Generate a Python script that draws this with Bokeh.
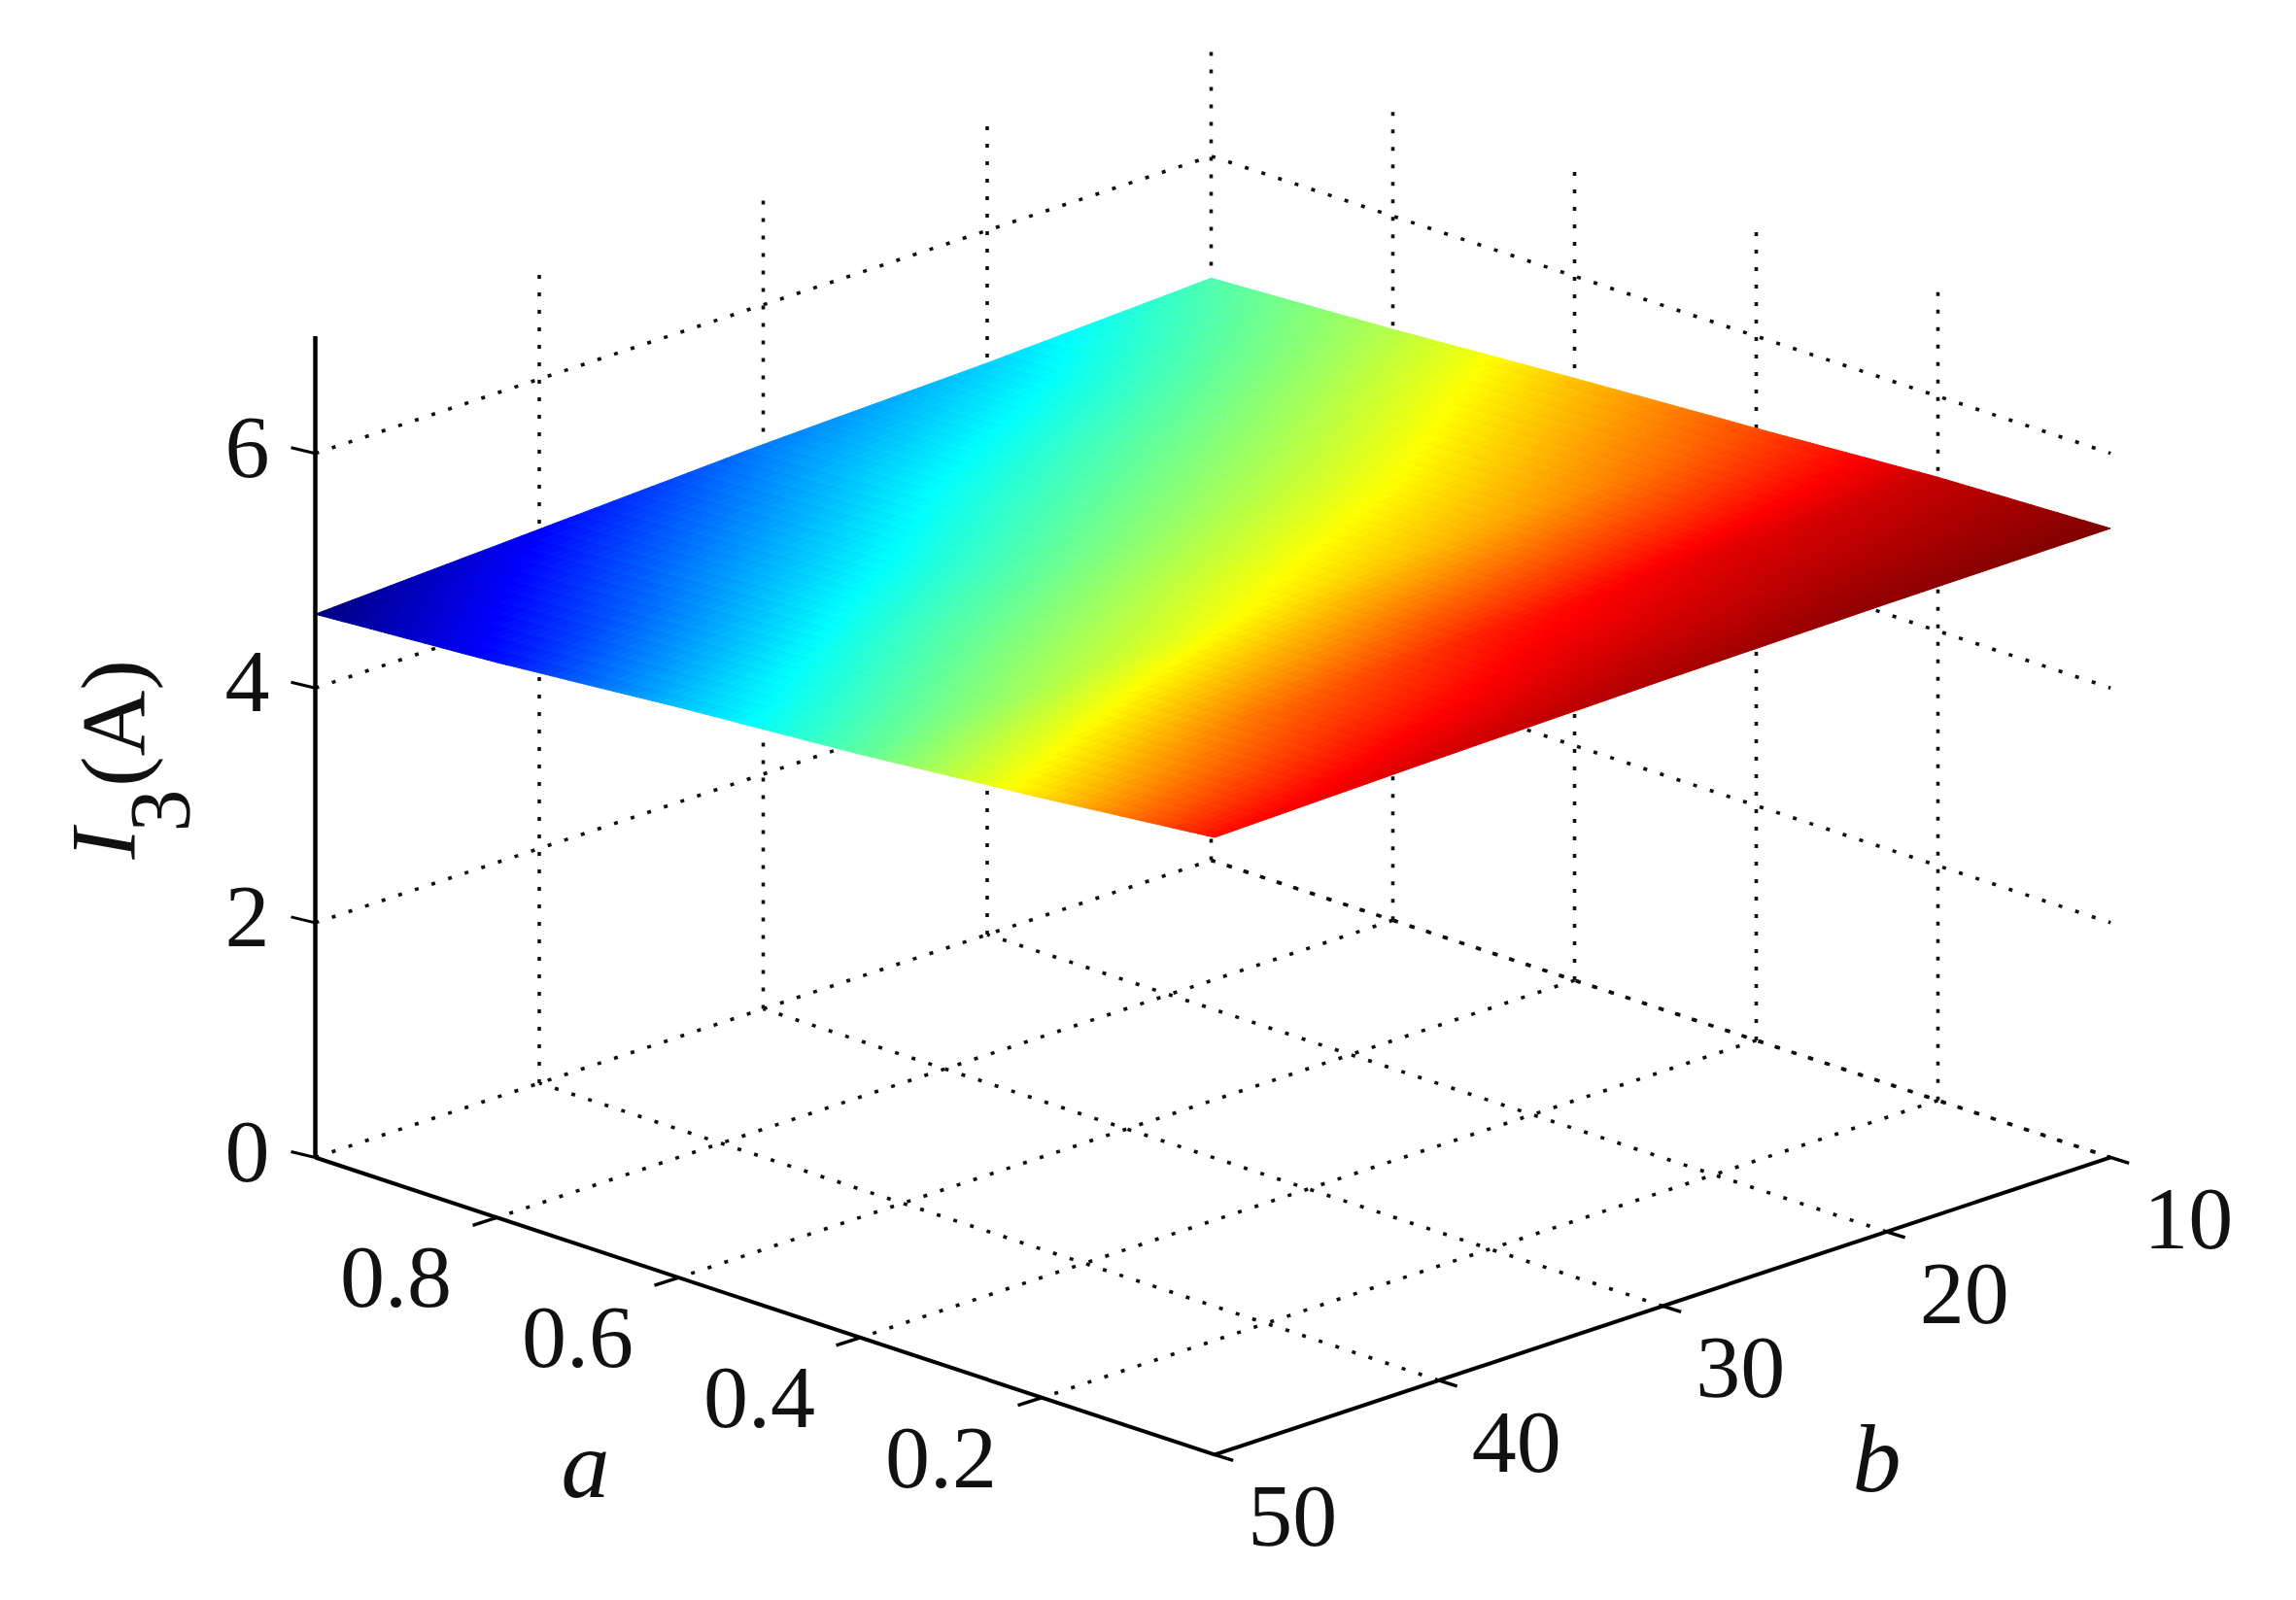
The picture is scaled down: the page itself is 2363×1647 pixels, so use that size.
import numpy as np
from bokeh.plotting import figure
from bokeh.embed import file_html
from bokeh.resources import INLINE
from bokeh.core.properties import value

# ---- values ----
a_ticks = [0.8, 0.6, 0.4, 0.2]
b_ticks = [10, 20, 30, 40, 50]
z_ticks = [0, 2, 4, 6]
a_labels = ["0.8", "0.6", "0.4", "0.2"]
b_labels = ["10", "20", "30", "40", "50"]
z_labels = ["0", "2", "4", "6"]
a_lim = (0.01, 1.0)
b_lim = (10, 50)
z_lim = (0, 7)

a_grid = [1.0, 0.8, 0.6, 0.4, 0.2, 0.01]
b_grid = [10, 20, 30, 40, 50]
I3_a100 = [4.96, 4.87, 4.81, 4.72, 4.63]
I3_a080 = [5.035, 4.97, 4.91, 4.83, 4.73]
I3_a060 = [5.13, 5.06, 5.00, 4.94, 4.86]
I3_a040 = [5.215, 5.155, 5.105, 5.04, 4.97]
I3_a020 = [5.31, 5.287, 5.25, 5.19, 5.11]
I3_a001 = [5.36, 5.35, 5.33, 5.30, 5.26]
I3 = np.array([I3_a100, I3_a080, I3_a060, I3_a040, I3_a020, I3_a001])

# ---- view of the 3-D box, in reference pixels ----
OX, OY = 324.0, 1191.0
AX, AY = 935.0, 309.0
BX, BY = 23.05, -7.65
ZS = 120.8


def proj(a, b, z):
    a, b, z = np.broadcast_arrays(np.asarray(a, float), np.asarray(b, float), np.asarray(z, float))
    return (OX + (1 - a) * AX + (50 - b) * BX,
            OY + (1 - a) * AY + (50 - b) * BY - z * ZS)


W, H = 2347, 1631
p = figure(width=W, height=H, x_range=(0, W), y_range=(H, 0),
           output_backend="svg", toolbar_location=None, min_border=0,
           background_fill_color="white", border_fill_color="white")
p.xaxis.visible = False
p.yaxis.visible = False
p.xgrid.visible = False
p.ygrid.visible = False
p.outline_line_color = None

DOT = dict(line_color="#111111", line_width=3.6, line_dash="4 14")
amin, amax = a_lim
bmin, bmax = b_lim
zmin, zmax = z_lim

# wall grid: z lines
for z in z_ticks:
    xs, ys = proj([amax, amax, amin], [bmax, bmin, bmin], [z, z, z])
    p.line(list(xs), list(ys), **DOT)
# wall grid: verticals
for b in b_ticks[:-1]:
    xs, ys = proj([amax, amax], [b, b], [0, zmax])
    p.line(list(xs), list(ys), **DOT)
for a in a_ticks:
    xs, ys = proj([a, a], [bmin, bmin], [0, zmax])
    p.line(list(xs), list(ys), **DOT)
# floor grid
for b in b_ticks[:-1]:
    xs, ys = proj([amin, amax], [b, b], [0, 0])
    p.line(list(xs), list(ys), **DOT)
for a in a_ticks:
    xs, ys = proj([a, a], [bmin, bmax], [0, 0])
    p.line(list(xs), list(ys), **DOT)


# ---- surface, shaded as MATLAB's "shading interp" ----
def jet(t):
    t = np.clip(t, 0, 1)
    r = np.clip(np.minimum(4 * t - 1.5, -4 * t + 4.5), 0, 1)
    g = np.clip(np.minimum(4 * t - 0.5, -4 * t + 3.5), 0, 1)
    b = np.clip(np.minimum(4 * t + 0.5, -4 * t + 2.5), 0, 1)
    return r, g, b


NA, NB = 20, 12
ua, ub = [], []
for i in range(len(a_grid) - 1):
    ua.extend(np.linspace(a_grid[i], a_grid[i + 1], NA, endpoint=False))
ua.append(a_grid[-1])
for j in range(len(b_grid) - 1):
    ub.extend(np.linspace(b_grid[j], b_grid[j + 1], NB, endpoint=False))
ub.append(b_grid[-1])
ua, ub = np.array(ua), np.array(ub)
by_b = np.array([np.interp(ub, b_grid, row) for row in I3])
asc = np.array(a_grid)[::-1]
Zf = np.array([np.interp(ua, asc, by_b[::-1, k]) for k in range(len(ub))]).T
lo, hi = I3.min(), I3.max()

qx, qy, qc = [], [], []
for i in range(len(ua) - 1):
    for j in range(len(ub) - 1):
        aa = [ua[i], ua[i + 1], ua[i + 1], ua[i]]
        bb = [ub[j], ub[j], ub[j + 1], ub[j + 1]]
        zz = [Zf[i, j], Zf[i + 1, j], Zf[i + 1, j + 1], Zf[i, j + 1]]
        xs, ys = proj(aa, bb, zz)
        qx.append([float(v) for v in np.round(xs, 1)])
        qy.append([float(v) for v in np.round(ys, 1)])
        r, g, bl = jet((np.mean(zz) - lo) / (hi - lo))
        qc.append("#%02x%02x%02x" % (int(r * 255), int(g * 255), int(bl * 255)))
p.patches(qx, qy, fill_color=qc, line_color=qc, line_width=1)

# ---- axes ----
AXL = dict(line_color="black", line_width=4)
xs, ys = proj([amax, amax], [bmax, bmax], [0, zmax])
p.line(list(xs), list(ys), line_color="black", line_width=4.5)
xs, ys = proj([amax, amin, amin], [bmax, bmax, bmin], [0, 0, 0])
p.line(list(xs), list(ys), **AXL)
for z in z_ticks:
    x0, y0 = proj(amax, bmax, z)
    p.line([float(x0) - 25, float(x0)], [float(y0) - 6, float(y0)], line_color="black", line_width=3)
for a in a_ticks:
    x0, y0 = proj(a, bmax, 0)
    p.line([float(x0) - 25, float(x0)], [float(y0) + 8, float(y0)], line_color="black", line_width=3.5)
for b in b_ticks:
    x0, y0 = proj(amin, b, 0)
    p.line([float(x0), float(x0) + 19], [float(y0), float(y0) + 6], line_color="black", line_width=3.5)

# ---- labels ----
SERIF = value("Liberation Serif")
def label(xs, ys, texts, size, style="normal", angle=0.0):
    p.text([float(v) for v in xs], [float(v) for v in ys], text=texts, text_font=SERIF,
           text_font_size=value(size), text_font_style=style, text_align="center",
           text_baseline="middle", text_color="#111111", angle=angle)

# offsets of tick labels from their tick positions on the axes
zx, zy = proj(amax, bmax, np.array(z_ticks))
label(zx - 70, zy - 6, z_labels, "92px")
ax_, ay_ = proj(np.array(a_ticks), bmax, 0)
label(ax_ - 104, ay_ + 62, a_labels, "92px")
bx_, by_ = proj(amin, np.array(b_ticks), 0)
label(bx_ + 80, by_ + 64, b_labels, "92px")
label([602], [1507], ["a"], "100px", "italic")
label([1931], [1501], ["b"], "100px", "italic")
label([106], [868], ["I"], "96px", "italic", np.pi / 2)
label([164], [834], ["3"], "88px", "normal", np.pi / 2)
label([115], [744], ["(A)"], "94px", "normal", np.pi / 2)

open("out.html", "w").write(file_html(p, INLINE))
